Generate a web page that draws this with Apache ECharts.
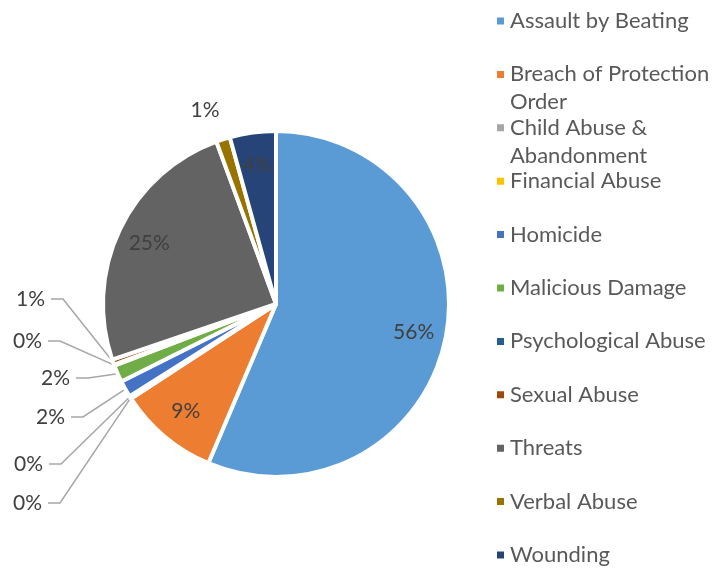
<!DOCTYPE html>
<html lang="en">
<head>
    <meta charset="UTF-8">
    <title>Incident Type</title>
    <script src="https://cdn.jsdelivr.net/npm/echarts@6/dist/echarts.min.js"></script>
</head>
<body style="margin:0">

<div id="main" style="width: 724px;height: 568px"></div>

<script type="text/javascript">
    // categories and share of incidents (%)
    var categories = ['Assault by Beating', 'Breach of Protection Order', 'Child Abuse & Abandonment',
        'Financial Abuse', 'Homicide', 'Malicious Damage', 'Psychological Abuse', 'Sexual Abuse',
        'Threats', 'Verbal Abuse', 'Wounding'];
    var values = [56.4, 9.4, 0.15, 0.1, 1.55, 1.6, 0.1, 0.5, 24.6, 1.3, 4.3];
    var colors = ['#5B9BD5', '#ED7D31', '#A5A5A5', '#FFC000', '#4472C4', '#70AD47',
        '#255E91', '#9E480E', '#636363', '#997300', '#264478'];

    // which slices get their label inside
    var insideLabel = [true, true, false, false, false, false, false, false, true, false, true];
    // label spots for the small slices: [right edge x, middle y]
    var sideLabels = {2: [42, 503], 3: [43, 464], 4: [65, 417], 5: [70, 378], 6: [42, 341], 7: [45, 299]};
    var legendWrap = {
        'Breach of Protection Order': 'Breach of Protection\nOrder',
        'Child Abuse & Abandonment': 'Child Abuse &\nAbandonment'
    };

    var font = 'Lato, "Open Sans", sans-serif';
    var myChart = echarts.init(document.getElementById('main'));

    var mainData = categories.map(function (name, i) {
        var item = {name: name, value: values[i], itemStyle: {color: colors[i]}};
        if (insideLabel[i]) {
            item.label = {show: false};
            item.labelLine = {show: false};
        } else if (i === 9) {
            item.labelLine = {show: false};
        }
        return item;
    });
    var innerLabelData = categories.map(function (name, i) {
        return {name: name, value: values[i], label: {show: insideLabel[i]}};
    });

    // one legend per entry so wrapped names don't push the rest down
    var legends = categories.map(function (name, i) {
        var cy = 16 + i * 53.4;
        var wrapped = !!legendWrap[name];
        return {
            orient: 'vertical',
            left: 490,
            top: cy - 14,
            itemWidth: 9,
            itemHeight: wrapped ? 37 : 9,
            // square sits at the top of a taller box so it lines up with the first line
            icon: wrapped ? 'path://M0,0L9,0L9,9L0,9Z M0,37L0.01,37' : 'rect',
            selectedMode: false,
            formatter: function (n) { return legendWrap[n] || n; },
            textStyle: {color: '#595959', fontSize: 22, fontFamily: font, lineHeight: 28},
            data: [name]
        };
    });

    myChart.setOption({
        animation: false,
        legend: legends,
        series: [
            {
                name: 'Type',
                type: 'pie',
                center: [276, 304],
                radius: 173,
                startAngle: 90,
                avoidLabelOverlap: false,
                itemStyle: {borderColor: '#fff', borderWidth: 4},
                label: {
                    show: true,
                    position: 'outside',
                    color: '#404040',
                    fontSize: 21,
                    fontFamily: font,
                    formatter: function (p) { return Math.round(p.percent) + '%'; }
                },
                labelLine: {show: true, length: 10, length2: 10, lineStyle: {color: '#a6a6a6', width: 1.5}},
                labelLayout: function (p) {
                    if (p.dataIndex === 9) {
                        return {x: 205, y: 110, align: 'center', verticalAlign: 'middle'};
                    }
                    var s = sideLabels[p.dataIndex];
                    if (!s) return {};
                    var pts = p.labelLinePoints;
                    return {
                        x: s[0], y: s[1], align: 'right', verticalAlign: 'middle',
                        labelLinePoints: [pts[0], [s[0] + 18, s[1]], [s[0] + 6, s[1]]]
                    };
                },
                data: mainData
            },
            {
                // transparent ring, only carries the inside labels further out
                name: 'labels',
                type: 'pie',
                silent: true,
                center: [276, 304],
                radius: [102, 173],
                startAngle: 90,
                itemStyle: {color: 'rgba(0,0,0,0)'},
                label: {
                    position: 'inside',
                    color: '#404040',
                    fontSize: 21,
                    fontFamily: font,
                    formatter: function (p) { return Math.round(p.percent) + '%'; }
                },
                labelLine: {show: false},
                data: innerLabelData
            }
        ]
    });
</script>
</body>
</html>
